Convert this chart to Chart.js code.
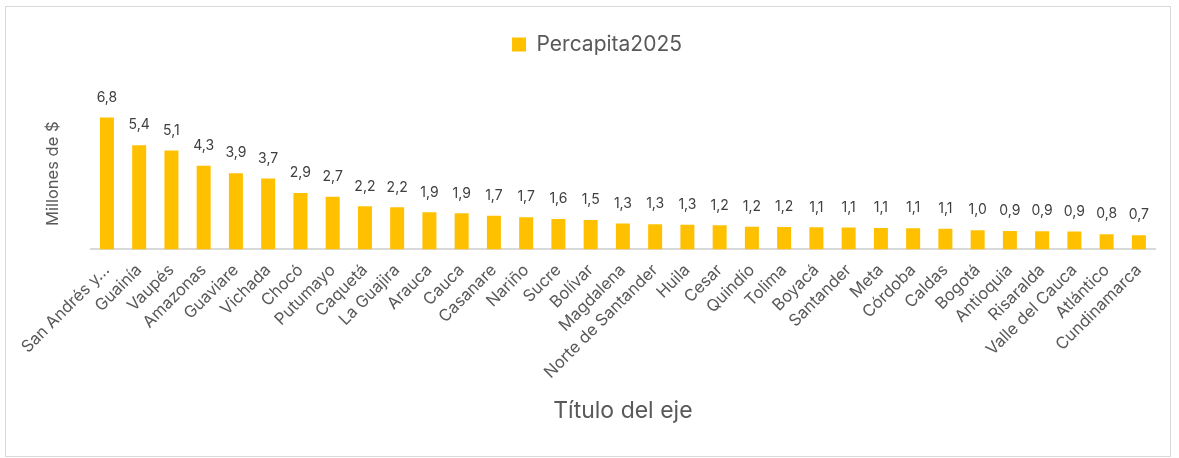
<!DOCTYPE html>
<html>
<head>
<meta charset="utf-8">
<script src="https://cdn.jsdelivr.net/npm/chart.js@4.4.1/dist/chart.umd.min.js"></script>
<style>
  html, body { margin: 0; padding: 0; background: #fff; }
  #wrap { position: relative; width: 1179px; height: 458px; }
  #marco { position: absolute; left: 5px; top: 6px; width: 1164px; height: 449px; border: 1.5px solid #d9d9d9; pointer-events: none; }
  canvas { position: absolute; left: 0; top: 0; }
</style>
</head>
<body>
<div id="wrap">
  <canvas id="grafico" width="1179" height="458"></canvas>
  <div id="marco"></div>
</div>
<script>
// Departamentos (orden del gráfico)
const departamentos = [
    'San Andrés y Providencia', 'Guainía', 'Vaupés', 'Amazonas', 'Guaviare', 'Vichada',
    'Chocó', 'Putumayo', 'Caquetá', 'La Guajira', 'Arauca', 'Cauca', 'Casanare',
    'Nariño', 'Sucre', 'Bolívar', 'Magdalena', 'Norte de Santander', 'Huila', 'Cesar',
    'Quindío', 'Tolima', 'Boyacá', 'Santander', 'Meta', 'Córdoba', 'Caldas', 'Bogotá',
    'Antioquia', 'Risaralda', 'Valle del Cauca', 'Atlántico', 'Cundinamarca'
];

// Percápita 2025, millones de $
const percapita2025 = [
    6.80, 5.37, 5.09, 4.31, 3.93, 3.66, 2.91, 2.72, 2.22, 2.17, 1.91, 1.86, 1.74,
    1.66, 1.57, 1.51, 1.33, 1.30, 1.27, 1.24, 1.17, 1.16, 1.14, 1.13, 1.11, 1.09,
    1.07, 0.99, 0.95, 0.94, 0.92, 0.78, 0.73
];

const fuente = 'Inter, "Open Sans", sans-serif';
const gris = '#595959';

// Etiquetas de valor encima de cada barra (no hay plugin datalabels)
const etiquetasValor = {
    id: 'etiquetasValor',
    afterDatasetsDraw(chart) {
        const ctx = chart.ctx;
        const meta = chart.getDatasetMeta(0);
        ctx.save();
        ctx.font = '14px ' + fuente;
        ctx.fillStyle = '#404040';
        ctx.textAlign = 'center';
        ctx.textBaseline = 'middle';
        meta.data.forEach((barra, i) => {
            const texto = percapita2025[i].toFixed(1).replace('.', ',');
            ctx.fillText(texto, barra.x, barra.y - 20);
        });
        ctx.restore();
    }
};

// Deja más aire entre la leyenda y las barras
const espacioLeyenda = {
    id: 'espacioLeyenda',
    beforeInit(chart) {
        const fitOriginal = chart.legend.fit;
        chart.legend.fit = function () {
            fitOriginal.bind(chart.legend)();
            this.height += 33;
        };
    }
};

const ctx = document.getElementById('grafico').getContext('2d');
new Chart(ctx, {
    type: 'bar',
    data: {
        labels: departamentos,
        datasets: [{
            label: 'Percapita2025',
            data: percapita2025,
            backgroundColor: '#FFC000',
            barPercentage: 0.434,
            categoryPercentage: 1
        }]
    },
    options: {
        responsive: false,
        devicePixelRatio: 1,
        animation: false,
        layout: {
            padding: { top: 24, left: 39, right: 24, bottom: 33 }
        },
        plugins: {
            legend: {
                position: 'top',
                labels: {
                    color: gris,
                    font: { size: 21, family: fuente },
                    boxWidth: 14,
                    boxHeight: 14,
                    padding: 10
                }
            },
            tooltip: { enabled: false }
        },
        scales: {
            x: {
                grid: { display: false },
                border: { color: '#d9d9d9', width: 2 },
                // la primera etiqueta puede salirse a la izquierda, como en Excel
                afterFit: function (scale) {
                    scale.paddingLeft = 0;
                },
                ticks: {
                    autoSkip: false,
                    minRotation: 45,
                    maxRotation: 45,
                    color: gris,
                    font: { size: 16.5, family: fuente },
                    callback: function (value) {
                        const nombre = this.getLabelForValue(value);
                        return nombre.length > 20 ? nombre.slice(0, 12) + '…' : nombre;
                    }
                },
                title: {
                    display: true,
                    text: 'Título del eje',
                    color: gris,
                    font: { size: 23, family: fuente },
                    padding: { top: 12, bottom: 0 }
                }
            },
            y: {
                min: 0,
                max: 7.8,
                grid: { display: false, drawTicks: false },
                border: { display: false },
                ticks: { display: false },
                title: {
                    display: true,
                    text: 'Millones de $',
                    color: gris,
                    font: { size: 16.5, family: fuente },
                    padding: { top: 4, bottom: 28 }
                }
            }
        }
    },
    plugins: [etiquetasValor, espacioLeyenda]
});
</script>
</body>
</html>
